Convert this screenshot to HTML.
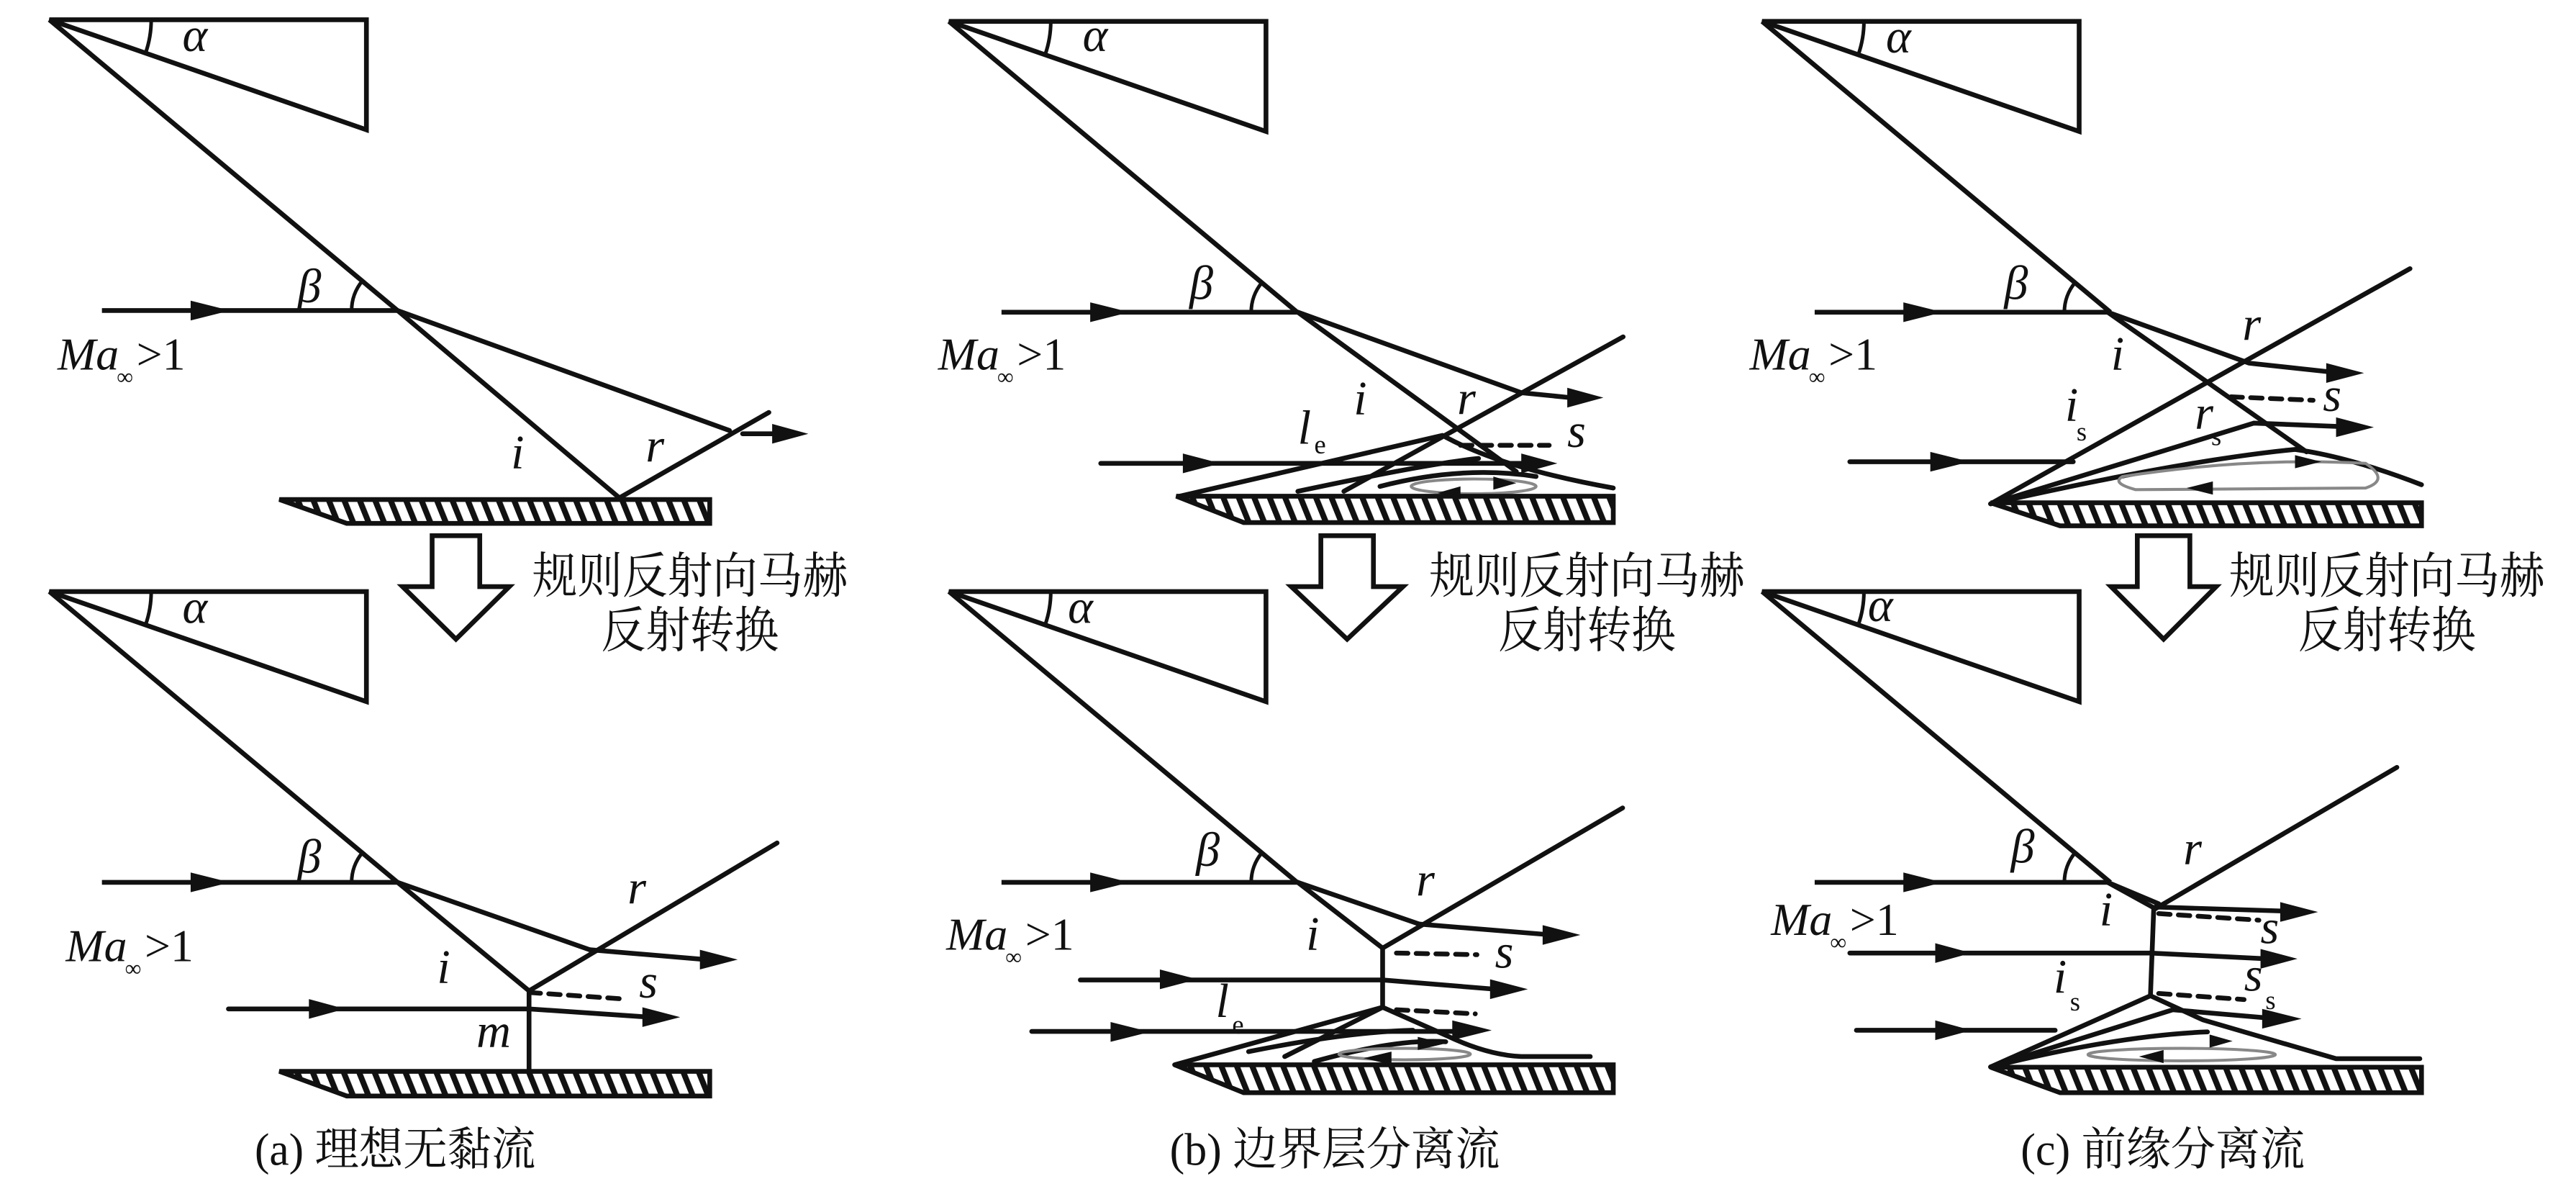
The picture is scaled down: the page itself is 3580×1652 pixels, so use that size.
<!DOCTYPE html>
<html><head><meta charset="utf-8"><style>
html,body{margin:0;padding:0;background:#fff;}
svg{display:block;}
.t{font-family:"Liberation Serif","Noto Serif CJK SC",serif;fill:#111;}
.c{font-family:"Liberation Serif","Noto Serif CJK SC",serif;fill:#111;}
.it{font-style:italic;}
</style></head><body>
<svg width="3580" height="1652" viewBox="0 0 1568 723.6" xmlns="http://www.w3.org/2000/svg">
<defs>
<pattern id="h" patternUnits="userSpaceOnUse" width="9.4" height="40" patternTransform="skewX(22)">
<rect x="0" y="0" width="3.8" height="40" fill="#111"/>
</pattern>
<g id="up" fill="none" stroke="#111" stroke-width="2.9" stroke-linejoin="miter">
<path d="M30,12 L223,12 L223,79 Z"/>
<path d="M30,12 L242,189"/>
<path d="M62,189 L242,189"/>
<path d="M92,12 A62,62 0 0 1 88.6,32.2" stroke-width="2.2"/>
<path d="M214,189 A28,28 0 0 1 220.5,171" stroke-width="2.2"/>
<polygon points="116,183 140,189 116,195" fill="#111" stroke="none"/>
</g>
</defs>
<rect width="1568" height="723.6" fill="#fff"/>

<use href="#up" x="0" y="0"/>
<use href="#up" x="0" y="348"/>
<use href="#up" x="547.6" y="1"/>
<use href="#up" x="547.6" y="348"/>
<use href="#up" x="1042.6" y="1"/>
<use href="#up" x="1042.6" y="348"/>

<g fill="none" stroke="#111" stroke-width="2.9" stroke-linecap="round">
<path d="M242,189 L377,303"/>
<path d="M242,189 L444,262"/>
<path d="M377,303 L468,251"/>
<path d="M452,264 L474,264"/>

<path d="M242,537 L322,603"/>
<path d="M242,537 L359,578"/>
<path d="M322,603 L473,513"/>
<path d="M359,578 L430,584"/>
<path d="M322,604 L380,608" stroke-dasharray="7,5"/>
<path d="M322,604 L322,652"/>
<path d="M139,614 L322,614 L395,619"/>

<path d="M790,190 L923,287"/>
<path d="M790,190 L926,239 L956,242"/>
<path d="M818,299 L988,205"/>
<path d="M718,302 L878,265"/>
<path d="M670,282 L928,282"/>
<path d="M889,271 L943,271" stroke-dasharray="7,5"/>
<path d="M880,266 Q915,285 982,297"/>
<path d="M790,299 Q870,282 900,279"/>
<path d="M840,296 Q890,283 935,290"/>
<ellipse cx="897" cy="296" rx="38" ry="4.5" stroke="#888" stroke-width="1.8"/>

<path d="M790,537 L841.6,577"/>
<path d="M790,537 L864,562.4"/>
<path d="M841.6,577 L987.7,491.7"/>
<path d="M864,562.4 L940,568.6"/>
<path d="M850,580 L899,581" stroke-dasharray="7,5"/>
<path d="M841.6,577 L841.6,613"/>
<path d="M657.6,596.4 L841.6,596.4 L910,602"/>
<path d="M850,614.5 L898,617" stroke-dasharray="7,5"/>
<path d="M628,627.7 L886,627.7"/>
<path d="M715,648 L841.6,613 L880,630 Q905,642 926,643 L968,643"/>
<path d="M782,643 L841.6,613"/>
<path d="M760,640 Q820,628 860,627"/>
<path d="M800,646 Q850,632 880,634"/>
<ellipse cx="855" cy="641.5" rx="40" ry="3.5" stroke="#888" stroke-width="1.8"/>

<path d="M1283,190 L1404,275"/>
<path d="M1283,190 L1369,221 L1420,226.5"/>
<path d="M1211.7,306.6 L1467,163.5"/>
<path d="M1358,241.5 L1408,243.6" stroke-dasharray="7,5"/>
<path d="M1211.7,306.6 L1372,257.5 L1425,259.6"/>
<path d="M1126,281 L1262,281"/>
<path d="M1211.7,306.6 Q1330,280 1397,273.5 Q1430,278 1474,295"/>
<path d="M1292,290 Q1370,278 1440,282 Q1455,292 1440,297 L1300,298 Q1285,294 1292,290 Z" stroke="#888" stroke-width="1.8"/>

<path d="M1283,537 L1312,553"/>
<path d="M1283,537 L1314,550"/>
<path d="M1312,553 L1459,467"/>
<path d="M1312,552 L1392,554.5"/>
<path d="M1314,556 L1375,560" stroke-dasharray="7,5"/>
<path d="M1311,553 L1309,606"/>
<path d="M1126,580 L1309,580 L1380,583.5"/>
<path d="M1314,604.6 L1366,608.3" stroke-dasharray="7,5"/>
<path d="M1130,627 L1251,627"/>
<path d="M1211.7,649.3 L1309,606 L1341,620.7 L1422,644.3 L1473,644.3"/>
<path d="M1211.7,649.3 L1322.6,614.5 L1380,619.5"/>
<path d="M1211.7,649.3 Q1290,630 1343.7,628"/>
<ellipse cx="1328" cy="641.8" rx="57" ry="3.8" stroke="#888" stroke-width="1.8"/>
</g>

<g stroke="#111" stroke-width="2.9" fill="url(#h)">
<polygon points="170,304 432,304 432,318.5 211,318.5"/>
<polygon points="170,652 432,652 432,667 211,667"/>
<polygon points="716,302 982,302 982,318 757,318"/>
<polygon points="715,648 982,648 982,665 757,665"/>
<polygon points="1211.7,306 1474,306 1474,320 1254,320"/>
<polygon points="1211.7,649.5 1474,649.5 1474,665 1254,665"/>
</g>

<g fill="#111">
<polygon points="470,258 492,264 470,270"/>
<polygon points="426,578 449,584 426,590"/>
<polygon points="188,608 210,614 188,620"/>
<polygon points="391,613 414,619 391,625"/>

<polygon points="954,236 976,242 954,248"/>
<polygon points="720,276 743,282 720,288"/>
<polygon points="926,276 948,282 926,288"/>
<polygon points="909,290 923,294 909,298"/>
<polygon points="889,296 875,300 889,304"/>

<polygon points="939,563 962,569 939,575"/>
<polygon points="706,590 729,596 706,602"/>
<polygon points="907,596 930,602 907,608"/>
<polygon points="676,622 700,628 676,634"/>
<polygon points="884,621 908,627 884,633"/>
<polygon points="863,631 880,635 863,639"/>
<polygon points="847,640 830,644 847,648"/>

<polygon points="1416,221 1439,227 1416,233"/>
<polygon points="1175,275 1199,281 1175,287"/>
<polygon points="1422,254 1445,260 1422,266"/>
<polygon points="1397,277 1413,281 1397,285"/>
<polygon points="1347,293 1331,297 1347,301"/>

<polygon points="1388,549 1411,555 1388,561"/>
<polygon points="1178,574 1200,580 1178,586"/>
<polygon points="1376,577.5 1398.5,583.5 1376,589.5"/>
<polygon points="1178,621 1200,627 1178,633"/>
<polygon points="1377,614 1401,620 1377,626"/>
<polygon points="1345,629.6 1359,633.6 1345,637.6"/>
<polygon points="1317,639 1302,643 1317,647"/>
</g>

<g fill="#fff" stroke="#111" stroke-width="2.9" stroke-linejoin="miter">
<polygon points="263,326 292,326 292,357 310,357 277.5,389 245,357 263,357"/>
<polygon points="804,326 836,326 836,357 854,357 820,389 786,357 804,357"/>
<polygon points="1301,326 1333,326 1333,357 1349,357 1317,389 1285,357 1301,357"/>
</g>

<g class="c" font-size="30">
<text x="324" y="361" textLength="192" lengthAdjust="spacingAndGlyphs">规则反射向马赫</text>
<text x="366" y="394" textLength="108" lengthAdjust="spacingAndGlyphs">反射转换</text>
<text x="870" y="361" textLength="192" lengthAdjust="spacingAndGlyphs">规则反射向马赫</text>
<text x="912" y="394" textLength="108" lengthAdjust="spacingAndGlyphs">反射转换</text>
<text x="1357" y="361" textLength="192" lengthAdjust="spacingAndGlyphs">规则反射向马赫</text>
<text x="1399" y="394" textLength="108" lengthAdjust="spacingAndGlyphs">反射转换</text>
</g>
<g class="c" font-size="28">
<text x="155" y="709" textLength="171" lengthAdjust="spacingAndGlyphs">(a) 理想无黏流</text>
<text x="712" y="709" textLength="201" lengthAdjust="spacingAndGlyphs">(b) 边界层分离流</text>
<text x="1230" y="709" textLength="173" lengthAdjust="spacingAndGlyphs">(c) 前缘分离流</text>
</g>

<g class="t it" font-size="29">
<text x="111" y="31">α</text><text x="181" y="184">β</text>
<text x="111" y="379">α</text><text x="181" y="531">β</text>
<text x="659" y="31">α</text><text x="724" y="182">β</text>
<text x="650" y="379">α</text><text x="728" y="527">β</text>
<text x="1148" y="32">α</text><text x="1220" y="182">β</text>
<text x="1137" y="378">α</text><text x="1224" y="525">β</text>

<text x="311" y="285">i</text><text x="393" y="281">r</text>
<text x="266" y="598">i</text><text x="382" y="550">r</text><text x="389" y="607">s</text><text x="290" y="637">m</text>

<text x="824" y="252">i</text><text x="887" y="252">r</text><text x="954" y="272">s</text><text x="790" y="270">l</text>
<text x="795" y="578">i</text><text x="862" y="545">r</text><text x="910" y="589">s</text><text x="740" y="619">l</text>

<text x="1285" y="225">i</text><text x="1365" y="207">r</text><text x="1414" y="250">s</text>
<text x="1257" y="256">i</text><text x="1336" y="261">r</text>
<text x="1278" y="563">i</text><text x="1329" y="526">r</text><text x="1376" y="574">s</text>
<text x="1250" y="604">i</text><text x="1366" y="603">s</text>
</g>
<g class="t" font-size="16">
<text x="800" y="276">e</text>
<text x="750" y="629">e</text>
<text x="1264" y="268">s</text>
<text x="1346" y="271">s</text>
<text x="1260" y="615">s</text>
<text x="1379" y="614">s</text>
</g>

<g class="t" font-size="28">
<text x="35" y="225"><tspan class="it">Ma</tspan></text><text x="71" y="234" font-size="14">∞</text><text x="83" y="225">&gt;1</text>
<text x="40" y="585"><tspan class="it">Ma</tspan></text><text x="76" y="594" font-size="14">∞</text><text x="88" y="585">&gt;1</text>
<text x="571" y="225"><tspan class="it">Ma</tspan></text><text x="607" y="234" font-size="14">∞</text><text x="619" y="225">&gt;1</text>
<text x="576" y="578"><tspan class="it">Ma</tspan></text><text x="612" y="587" font-size="14">∞</text><text x="624" y="578">&gt;1</text>
<text x="1065" y="225"><tspan class="it">Ma</tspan></text><text x="1101" y="234" font-size="14">∞</text><text x="1113" y="225">&gt;1</text>
<text x="1078" y="569"><tspan class="it">Ma</tspan></text><text x="1114" y="578" font-size="14">∞</text><text x="1126" y="569">&gt;1</text>
</g>
</svg>
</body></html>
